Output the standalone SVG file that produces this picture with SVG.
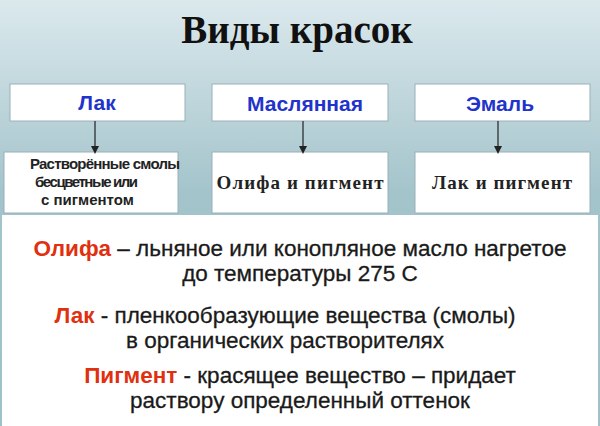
<svg xmlns="http://www.w3.org/2000/svg" width="600" height="426" viewBox="0 0 600 426">
<defs>
<linearGradient id="bg" x1="0" y1="0" x2="0" y2="1">
<stop offset="0" stop-color="#dbe9ed"/><stop offset="0.45" stop-color="#a4c4cb"/><stop offset="1" stop-color="#9fc0c8"/>
</linearGradient>
<marker id="ah" markerWidth="8" markerHeight="8" refX="4" refY="4" orient="auto" markerUnits="userSpaceOnUse"><path d="M0,0 L8,4 L0,8 z" fill="#222"/></marker>
</defs>
<style>
.box{fill:#fff;stroke:#9ab0b8;stroke-width:1}
.h{font-family:"Liberation Sans",Arial,sans-serif;font-weight:bold;font-size:21px;fill:#2233cc;text-anchor:middle}
.s{font-family:"Liberation Serif",serif;font-weight:bold;font-size:19px;fill:#222;text-anchor:middle}
.ss{font-family:"Liberation Sans",sans-serif;font-weight:bold;font-size:15px;fill:#222}
.t{font-family:"Liberation Sans",Arial,sans-serif;font-size:22.5px;fill:#1a1a1a;text-anchor:middle;stroke:#1a1a1a;stroke-width:0.3}
.r{fill:#e03010;stroke:#e03010;font-weight:bold;stroke-width:0}
.c{stroke:#222;stroke-width:1.2;marker-end:url(#ah)}
</style>
<rect width="600" height="426" fill="url(#bg)"/>
<text x="297" y="43" font-family="Liberation Serif,serif" font-weight="bold" font-size="39" fill="#111" text-anchor="middle">Виды красок</text>
<g id="n1"><rect class="box" x="10" y="84" width="175" height="37"/><text class="h" x="97" y="110">Лак</text></g>
<g id="n2"><rect class="box" x="212" y="84" width="176" height="37"/><text class="h" x="305" y="111">Маслянная</text></g>
<g id="n3"><rect class="box" x="415" y="84" width="175" height="37"/><text class="h" x="500" y="111">Эмаль</text></g>
<g id="n4"><rect class="box" x="4" y="152" width="174" height="61"/><text class="ss" x="30" y="169" textLength="150">Растворённые смолы</text><text class="ss" x="35" y="187" textLength="103">бесцветные или</text><text class="ss" x="41" y="205">с  пигментом</text></g>
<g id="n5"><rect class="box" x="212" y="152" width="176" height="61"/><text class="s" x="300" y="189" textLength="167">Олифа и пигмент</text></g>
<g id="n6"><rect class="box" x="415" y="152" width="175" height="61"/><text class="s" x="502" y="189" textLength="140">Лак и пигмент</text></g>
<g id="connectors">
<line class="c" x1="95" y1="121" x2="95" y2="150"/>
<line class="c" x1="303" y1="121" x2="303" y2="150"/>
<line class="c" x1="498" y1="121" x2="498" y2="150"/>
</g>
<g id="info"><rect x="2" y="215" width="596" height="211" fill="#fff"/>
<text class="t" x="300" y="256"><tspan class="r">Олифа</tspan> – льняное или конопляное масло нагретое</text>
<text class="t" x="300" y="281">до температуры 275 С</text>
<text class="t" x="285" y="323"><tspan class="r">Лак</tspan> - пленкообразующие вещества (смолы)</text>
<text class="t" x="285" y="348">в органических растворителях</text>
<text class="t" x="300" y="383"><tspan class="r">Пигмент</tspan> - красящее вещество – придает</text>
<text class="t" x="300" y="408">раствору определенный оттенок</text>
</g>
</svg>
